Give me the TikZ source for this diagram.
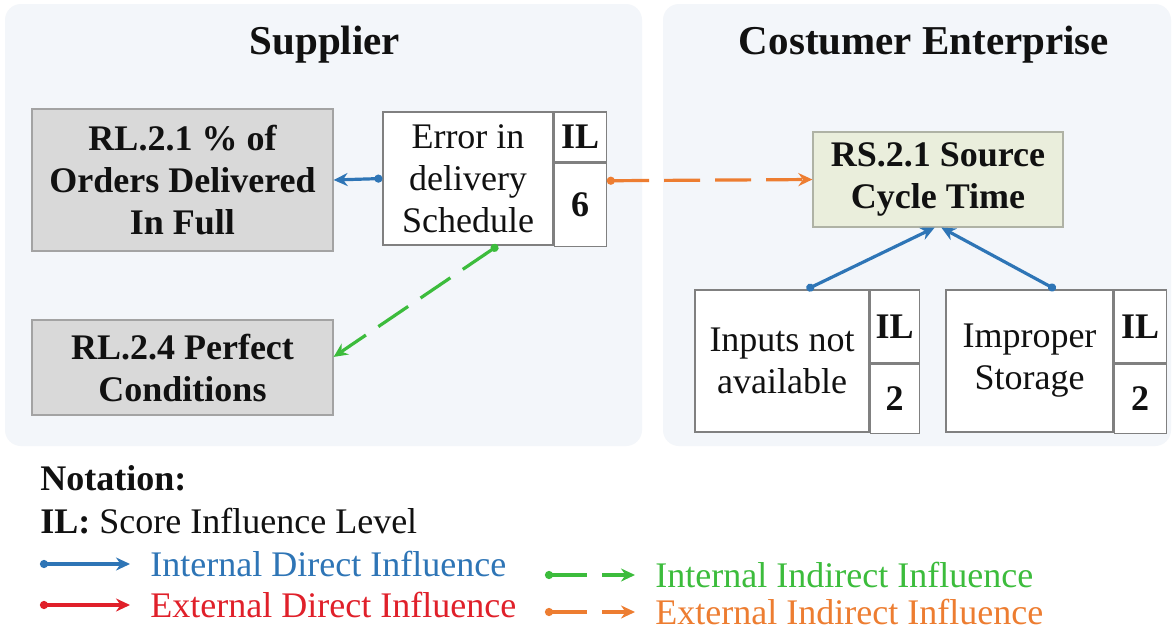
\documentclass[tikz,border=0pt]{standalone}
\usepackage{fontspec}
\setmainfont{Liberation Serif}
\usepackage{tikz}
\usetikzlibrary{arrows.meta, calc, positioning}
\usepackage{xcolor}
\definecolor{cBlue}{HTML}{2E75B6}
\definecolor{cRed}{HTML}{E0202A}
\definecolor{cGreen}{HTML}{3CBC3C}
\definecolor{cOrange}{HTML}{ED7D31}
\definecolor{cPanel}{HTML}{F3F6FA}
\definecolor{cGrey}{HTML}{D9D9D9}
\definecolor{cSage}{HTML}{EAEEDC}
\definecolor{cInk}{HTML}{111111}

\begin{document}
\begin{tikzpicture}[x=0.5pt, y=-0.5pt,
  every node/.style={font=\fontsize{18}{21}\selectfont, text=cInk, inner sep=0pt},
  title/.style={font=\fontsize{20.5}{24}\selectfont\bfseries},
  kpi/.style={draw=#1!75!black, fill=#1, line width=0.6pt, align=center,
              font=\fontsize{18}{21}\selectfont\bfseries},
  cause/.style={draw=gray, fill=white, line width=0.6pt, align=center},
  ilcell/.style={draw=gray, fill=white, line width=0.6pt, font=\fontsize{18}{21}\selectfont\bfseries},
  dirarr/.style={draw=#1, line width=1.6pt, {Circle[length=4pt]}-{Stealth[length=7pt, width=6.5pt]}},
  indarr/.style={dirarr=#1, dash pattern=on 18pt off 7.5pt}]
  \fill[white] (0,0) rectangle (1175,633);
  \useasboundingbox (0,0) rectangle (1175,633);
  % the two sides
  \fill[cPanel, rounded corners=8pt] (5,4) rectangle (642,446);
  \fill[cPanel, rounded corners=8pt] (663,4) rectangle (1171,446);
  \node[title] (sup) at (325,45) {Supplier};
  \node[title] (cust) at (924,45) {Costumer Enterprise};

  % metrics
  \node[kpi=cGrey, minimum width=150.5pt, minimum height=71pt] (rl21) at (182.5,180) {RL.2.1 \% of\\Orders Delivered\\In Full};
  \node[kpi=cGrey, minimum width=150.5pt, minimum height=47.5pt] (rl24) at (182.5,367.5) {RL.2.4 Perfect\\Conditions};
  \node[kpi=cSage, minimum width=125pt, minimum height=47.5pt] (rs21) at (938,179.5) {RS.2.1 Source\\Cycle Time};

  % risk causes with their IL score
  \node[cause, minimum width=85pt, minimum height=66.5pt] (err) at (468,178.5) {Error in\\delivery\\Schedule};
  \node[ilcell, minimum width=26pt, minimum height=25pt, anchor=north west] (errIL) at (err.north east) {IL};
  \node[ilcell, minimum width=26pt, minimum height=41.5pt, below=0pt of errIL] (errVal) {6};

  \node[cause, minimum width=87pt, minimum height=71pt] (inp) at (782,361) {Inputs not\\available};
  \node[ilcell, minimum width=24.5pt, minimum height=36.5pt, anchor=north west] (inpIL) at (inp.north east) {IL};
  \node[ilcell, minimum width=24.5pt, minimum height=34.5pt, below=0pt of inpIL] (inpVal) {2};

  \node[cause, minimum width=83.5pt, minimum height=71pt] (stor) at (1029.5,361) {Improper\\Storage};
  \node[ilcell, minimum width=26pt, minimum height=36.5pt, anchor=north west] (storIL) at (stor.north east) {IL};
  \node[ilcell, minimum width=26pt, minimum height=34.5pt, below=0pt of storIL] (storVal) {2};

  % influences
  \draw[dirarr=cBlue] (err.west) -- (rl21.east);
  \draw[indarr=cOrange] (errVal.42) -- (rs21.west);
  \draw[indarr=cGreen] (err.-66) -- (rl24.4);
  \draw[dirarr=cBlue] (inp.71) -- (rs21.-94);
  \draw[dirarr=cBlue] (stor.70) -- (rs21.-86);

  % notation
  \node[anchor=west, font=\fontsize{18}{21}\selectfont\bfseries] (nota) at (40,478) {Notation:};
  \node[anchor=west] (ilkey) at (40,521) {\textbf{IL:} Score Influence Level};
  \foreach \n/\xa/\y/\kind/\c/\txt in {k1/40/564/dirarr/cBlue/Internal Direct Influence,
      k2/40/605/dirarr/cRed/External Direct Influence,
      k3/545/575/indarr/cGreen/Internal Indirect Influence,
      k4/545/612/indarr/cOrange/External Indirect Influence} {
    \coordinate (\n) at (\xa,\y);
    \node[anchor=west, inner xsep=10pt, text=\c] (t\n) at (\xa+90,\y) {\txt};
    \draw[\kind=\c] (\n) -- (t\n.west);
  }
\end{tikzpicture}
\end{document}
